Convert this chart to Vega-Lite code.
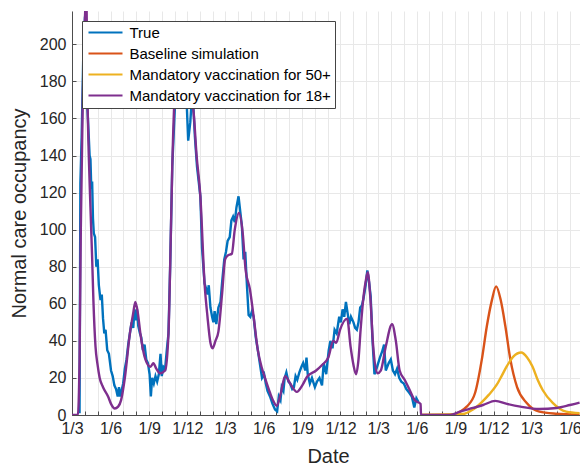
{
  "$schema": "https://vega.github.io/schema/vega-lite/v6.json",
  "width": 508,
  "height": 404,
  "autosize": {"type": "none"},
  "padding": {"left": 72, "top": 11, "right": 0, "bottom": 51},
  "background": "white",
  "config": {
    "font": "Liberation Sans",
    "view": {"stroke": null}
  },
  "datasets": {
    "rows": [
      {"date": "2020-03-19", "series": "True", "value": 1},
      {"date": "2020-03-21", "series": "True", "value": 125},
      {"date": "2020-03-24", "series": "True", "value": 150},
      {"date": "2020-03-28", "series": "True", "value": 195},
      {"date": "2020-04-01", "series": "True", "value": 215},
      {"date": "2020-04-04", "series": "True", "value": 205},
      {"date": "2020-04-06", "series": "True", "value": 168},
      {"date": "2020-04-08", "series": "True", "value": 160},
      {"date": "2020-04-10", "series": "True", "value": 150},
      {"date": "2020-04-12", "series": "True", "value": 140},
      {"date": "2020-04-14", "series": "True", "value": 138},
      {"date": "2020-04-16", "series": "True", "value": 122},
      {"date": "2020-04-18", "series": "True", "value": 126},
      {"date": "2020-04-20", "series": "True", "value": 106},
      {"date": "2020-04-22", "series": "True", "value": 98},
      {"date": "2020-04-25", "series": "True", "value": 96},
      {"date": "2020-04-28", "series": "True", "value": 80},
      {"date": "2020-05-01", "series": "True", "value": 84},
      {"date": "2020-05-04", "series": "True", "value": 70},
      {"date": "2020-05-08", "series": "True", "value": 62},
      {"date": "2020-05-11", "series": "True", "value": 65},
      {"date": "2020-05-14", "series": "True", "value": 52},
      {"date": "2020-05-17", "series": "True", "value": 44},
      {"date": "2020-05-20", "series": "True", "value": 46},
      {"date": "2020-05-24", "series": "True", "value": 35},
      {"date": "2020-05-28", "series": "True", "value": 33},
      {"date": "2020-06-02", "series": "True", "value": 24},
      {"date": "2020-06-06", "series": "True", "value": 21},
      {"date": "2020-06-10", "series": "True", "value": 16},
      {"date": "2020-06-14", "series": "True", "value": 14},
      {"date": "2020-06-18", "series": "True", "value": 10},
      {"date": "2020-06-21", "series": "True", "value": 15},
      {"date": "2020-06-24", "series": "True", "value": 10},
      {"date": "2020-07-01", "series": "True", "value": 17},
      {"date": "2020-07-05", "series": "True", "value": 25},
      {"date": "2020-07-09", "series": "True", "value": 30},
      {"date": "2020-07-13", "series": "True", "value": 38},
      {"date": "2020-07-17", "series": "True", "value": 44},
      {"date": "2020-07-21", "series": "True", "value": 50},
      {"date": "2020-07-25", "series": "True", "value": 47},
      {"date": "2020-07-28", "series": "True", "value": 57},
      {"date": "2020-07-31", "series": "True", "value": 51},
      {"date": "2020-08-03", "series": "True", "value": 57},
      {"date": "2020-08-06", "series": "True", "value": 48},
      {"date": "2020-08-10", "series": "True", "value": 44},
      {"date": "2020-08-13", "series": "True", "value": 42},
      {"date": "2020-08-17", "series": "True", "value": 35},
      {"date": "2020-08-21", "series": "True", "value": 38},
      {"date": "2020-08-25", "series": "True", "value": 30},
      {"date": "2020-08-29", "series": "True", "value": 28},
      {"date": "2020-09-02", "series": "True", "value": 22},
      {"date": "2020-09-05", "series": "True", "value": 10},
      {"date": "2020-09-08", "series": "True", "value": 20},
      {"date": "2020-09-12", "series": "True", "value": 17},
      {"date": "2020-09-16", "series": "True", "value": 21},
      {"date": "2020-09-20", "series": "True", "value": 18},
      {"date": "2020-09-24", "series": "True", "value": 22},
      {"date": "2020-09-28", "series": "True", "value": 33},
      {"date": "2020-10-01", "series": "True", "value": 21},
      {"date": "2020-10-05", "series": "True", "value": 26},
      {"date": "2020-10-09", "series": "True", "value": 25},
      {"date": "2020-10-13", "series": "True", "value": 35},
      {"date": "2020-10-17", "series": "True", "value": 44},
      {"date": "2020-10-21", "series": "True", "value": 80},
      {"date": "2020-10-26", "series": "True", "value": 134},
      {"date": "2020-11-01", "series": "True", "value": 165},
      {"date": "2020-11-05", "series": "True", "value": 180},
      {"date": "2020-11-10", "series": "True", "value": 190},
      {"date": "2020-11-15", "series": "True", "value": 185},
      {"date": "2020-11-20", "series": "True", "value": 178},
      {"date": "2020-11-25", "series": "True", "value": 186},
      {"date": "2020-11-30", "series": "True", "value": 165},
      {"date": "2020-12-03", "series": "True", "value": 148},
      {"date": "2020-12-08", "series": "True", "value": 158},
      {"date": "2020-12-12", "series": "True", "value": 172},
      {"date": "2020-12-15", "series": "True", "value": 168},
      {"date": "2020-12-19", "series": "True", "value": 150},
      {"date": "2020-12-24", "series": "True", "value": 134},
      {"date": "2021-01-01", "series": "True", "value": 118},
      {"date": "2021-01-05", "series": "True", "value": 90},
      {"date": "2021-01-11", "series": "True", "value": 71},
      {"date": "2021-01-15", "series": "True", "value": 68},
      {"date": "2021-01-18", "series": "True", "value": 65},
      {"date": "2021-01-21", "series": "True", "value": 70},
      {"date": "2021-01-25", "series": "True", "value": 58},
      {"date": "2021-01-29", "series": "True", "value": 53},
      {"date": "2021-02-01", "series": "True", "value": 50},
      {"date": "2021-02-04", "series": "True", "value": 56},
      {"date": "2021-02-08", "series": "True", "value": 49},
      {"date": "2021-02-13", "series": "True", "value": 58},
      {"date": "2021-02-18", "series": "True", "value": 61},
      {"date": "2021-02-22", "series": "True", "value": 72},
      {"date": "2021-02-27", "series": "True", "value": 84},
      {"date": "2021-03-03", "series": "True", "value": 88},
      {"date": "2021-03-07", "series": "True", "value": 94},
      {"date": "2021-03-12", "series": "True", "value": 96},
      {"date": "2021-03-16", "series": "True", "value": 105},
      {"date": "2021-03-20", "series": "True", "value": 107},
      {"date": "2021-03-24", "series": "True", "value": 104},
      {"date": "2021-03-28", "series": "True", "value": 112},
      {"date": "2021-04-02", "series": "True", "value": 118},
      {"date": "2021-04-06", "series": "True", "value": 110},
      {"date": "2021-04-10", "series": "True", "value": 102},
      {"date": "2021-04-14", "series": "True", "value": 84},
      {"date": "2021-04-18", "series": "True", "value": 88},
      {"date": "2021-04-22", "series": "True", "value": 70},
      {"date": "2021-04-26", "series": "True", "value": 54},
      {"date": "2021-04-30", "series": "True", "value": 53},
      {"date": "2021-05-04", "series": "True", "value": 56},
      {"date": "2021-05-08", "series": "True", "value": 53},
      {"date": "2021-05-13", "series": "True", "value": 42},
      {"date": "2021-05-18", "series": "True", "value": 35},
      {"date": "2021-05-24", "series": "True", "value": 26},
      {"date": "2021-05-28", "series": "True", "value": 20},
      {"date": "2021-06-02", "series": "True", "value": 22},
      {"date": "2021-06-06", "series": "True", "value": 17},
      {"date": "2021-06-10", "series": "True", "value": 13},
      {"date": "2021-06-16", "series": "True", "value": 10},
      {"date": "2021-06-22", "series": "True", "value": 6},
      {"date": "2021-06-28", "series": "True", "value": 3},
      {"date": "2021-07-03", "series": "True", "value": 2},
      {"date": "2021-07-07", "series": "True", "value": 10},
      {"date": "2021-07-11", "series": "True", "value": 8},
      {"date": "2021-07-14", "series": "True", "value": 15},
      {"date": "2021-07-18", "series": "True", "value": 13},
      {"date": "2021-07-21", "series": "True", "value": 20},
      {"date": "2021-07-25", "series": "True", "value": 23},
      {"date": "2021-07-30", "series": "True", "value": 18},
      {"date": "2021-08-03", "series": "True", "value": 17},
      {"date": "2021-08-08", "series": "True", "value": 14},
      {"date": "2021-08-12", "series": "True", "value": 15},
      {"date": "2021-08-16", "series": "True", "value": 21},
      {"date": "2021-08-20", "series": "True", "value": 19},
      {"date": "2021-08-25", "series": "True", "value": 23},
      {"date": "2021-08-30", "series": "True", "value": 26},
      {"date": "2021-09-03", "series": "True", "value": 28},
      {"date": "2021-09-08", "series": "True", "value": 24},
      {"date": "2021-09-11", "series": "True", "value": 31},
      {"date": "2021-09-14", "series": "True", "value": 22},
      {"date": "2021-09-19", "series": "True", "value": 17},
      {"date": "2021-09-24", "series": "True", "value": 20},
      {"date": "2021-10-01", "series": "True", "value": 15},
      {"date": "2021-10-06", "series": "True", "value": 18},
      {"date": "2021-10-12", "series": "True", "value": 20},
      {"date": "2021-10-18", "series": "True", "value": 16},
      {"date": "2021-10-22", "series": "True", "value": 28},
      {"date": "2021-10-28", "series": "True", "value": 22},
      {"date": "2021-11-03", "series": "True", "value": 35},
      {"date": "2021-11-07", "series": "True", "value": 40},
      {"date": "2021-11-12", "series": "True", "value": 36},
      {"date": "2021-11-17", "series": "True", "value": 46},
      {"date": "2021-11-22", "series": "True", "value": 44},
      {"date": "2021-11-28", "series": "True", "value": 53},
      {"date": "2021-12-02", "series": "True", "value": 50},
      {"date": "2021-12-06", "series": "True", "value": 57},
      {"date": "2021-12-10", "series": "True", "value": 53},
      {"date": "2021-12-14", "series": "True", "value": 61},
      {"date": "2021-12-18", "series": "True", "value": 55},
      {"date": "2021-12-22", "series": "True", "value": 49},
      {"date": "2021-12-26", "series": "True", "value": 53},
      {"date": "2022-01-01", "series": "True", "value": 50},
      {"date": "2022-01-05", "series": "True", "value": 47},
      {"date": "2022-01-09", "series": "True", "value": 46},
      {"date": "2022-01-13", "series": "True", "value": 50},
      {"date": "2022-01-17", "series": "True", "value": 58},
      {"date": "2022-01-21", "series": "True", "value": 59},
      {"date": "2022-01-25", "series": "True", "value": 63},
      {"date": "2022-01-30", "series": "True", "value": 70},
      {"date": "2022-02-03", "series": "True", "value": 78},
      {"date": "2022-02-07", "series": "True", "value": 72},
      {"date": "2022-02-11", "series": "True", "value": 64},
      {"date": "2022-02-15", "series": "True", "value": 42},
      {"date": "2022-02-20", "series": "True", "value": 22},
      {"date": "2022-02-25", "series": "True", "value": 25},
      {"date": "2022-03-01", "series": "True", "value": 28},
      {"date": "2022-03-05", "series": "True", "value": 31},
      {"date": "2022-03-10", "series": "True", "value": 34},
      {"date": "2022-03-15", "series": "True", "value": 38},
      {"date": "2022-03-19", "series": "True", "value": 24},
      {"date": "2022-03-26", "series": "True", "value": 28},
      {"date": "2022-03-31", "series": "True", "value": 30},
      {"date": "2022-04-05", "series": "True", "value": 24},
      {"date": "2022-04-10", "series": "True", "value": 22},
      {"date": "2022-04-15", "series": "True", "value": 25},
      {"date": "2022-04-20", "series": "True", "value": 20},
      {"date": "2022-04-25", "series": "True", "value": 18},
      {"date": "2022-05-01", "series": "True", "value": 17},
      {"date": "2022-05-07", "series": "True", "value": 14},
      {"date": "2022-05-14", "series": "True", "value": 12},
      {"date": "2022-05-20", "series": "True", "value": 10},
      {"date": "2022-05-26", "series": "True", "value": 4},
      {"date": "2022-05-31", "series": "True", "value": 9},
      {"date": "2022-06-05", "series": "True", "value": 7},

      {"date": "2022-06-11", "series": "Baseline simulation", "value": 0},
      {"date": "2022-08-19", "series": "Baseline simulation", "value": 0},
      {"date": "2022-09-12", "series": "Baseline simulation", "value": 1.8},
      {"date": "2022-09-28", "series": "Baseline simulation", "value": 4.5},
      {"date": "2022-10-18", "series": "Baseline simulation", "value": 12},
      {"date": "2022-11-03", "series": "Baseline simulation", "value": 30},
      {"date": "2022-11-15", "series": "Baseline simulation", "value": 48},
      {"date": "2022-11-27", "series": "Baseline simulation", "value": 62},
      {"date": "2022-12-07", "series": "Baseline simulation", "value": 69.4},
      {"date": "2022-12-18", "series": "Baseline simulation", "value": 62},
      {"date": "2022-12-29", "series": "Baseline simulation", "value": 48},
      {"date": "2023-01-10", "series": "Baseline simulation", "value": 30},
      {"date": "2023-01-26", "series": "Baseline simulation", "value": 15},
      {"date": "2023-02-18", "series": "Baseline simulation", "value": 6.5},
      {"date": "2023-03-20", "series": "Baseline simulation", "value": 1.8},
      {"date": "2023-04-28", "series": "Baseline simulation", "value": 0.7},
      {"date": "2023-06-24", "series": "Baseline simulation", "value": 0.2},

      {"date": "2022-06-11", "series": "Mandatory vaccination for 50+", "value": 0},
      {"date": "2022-09-19", "series": "Mandatory vaccination for 50+", "value": 0.5},
      {"date": "2022-10-13", "series": "Mandatory vaccination for 50+", "value": 3},
      {"date": "2022-11-03", "series": "Mandatory vaccination for 50+", "value": 7},
      {"date": "2022-11-20", "series": "Mandatory vaccination for 50+", "value": 11},
      {"date": "2022-12-09", "series": "Mandatory vaccination for 50+", "value": 16.5},
      {"date": "2022-12-20", "series": "Mandatory vaccination for 50+", "value": 21},
      {"date": "2023-01-02", "series": "Mandatory vaccination for 50+", "value": 26.5},
      {"date": "2023-01-17", "series": "Mandatory vaccination for 50+", "value": 31.5},
      {"date": "2023-02-05", "series": "Mandatory vaccination for 50+", "value": 33.7},
      {"date": "2023-02-19", "series": "Mandatory vaccination for 50+", "value": 31},
      {"date": "2023-03-04", "series": "Mandatory vaccination for 50+", "value": 26},
      {"date": "2023-03-16", "series": "Mandatory vaccination for 50+", "value": 19},
      {"date": "2023-03-28", "series": "Mandatory vaccination for 50+", "value": 13.5},
      {"date": "2023-04-21", "series": "Mandatory vaccination for 50+", "value": 6.5},
      {"date": "2023-05-23", "series": "Mandatory vaccination for 50+", "value": 1.8},
      {"date": "2023-06-24", "series": "Mandatory vaccination for 50+", "value": 1},

      {"date": "2020-03-01", "series": "Mandatory vaccination for 18+", "value": 0},
      {"date": "2020-03-15", "series": "Mandatory vaccination for 18+", "value": 0},
      {"date": "2020-03-19", "series": "Mandatory vaccination for 18+", "value": 30},
      {"date": "2020-03-22", "series": "Mandatory vaccination for 18+", "value": 100},
      {"date": "2020-03-27", "series": "Mandatory vaccination for 18+", "value": 175},
      {"date": "2020-04-01", "series": "Mandatory vaccination for 18+", "value": 215},
      {"date": "2020-04-04", "series": "Mandatory vaccination for 18+", "value": 228},
      {"date": "2020-04-07", "series": "Mandatory vaccination for 18+", "value": 170},
      {"date": "2020-04-10", "series": "Mandatory vaccination for 18+", "value": 140},
      {"date": "2020-04-14", "series": "Mandatory vaccination for 18+", "value": 112},
      {"date": "2020-04-18", "series": "Mandatory vaccination for 18+", "value": 85},
      {"date": "2020-04-21", "series": "Mandatory vaccination for 18+", "value": 62},
      {"date": "2020-04-26", "series": "Mandatory vaccination for 18+", "value": 37},
      {"date": "2020-05-01", "series": "Mandatory vaccination for 18+", "value": 27},
      {"date": "2020-05-06", "series": "Mandatory vaccination for 18+", "value": 20},
      {"date": "2020-05-14", "series": "Mandatory vaccination for 18+", "value": 15},
      {"date": "2020-05-26", "series": "Mandatory vaccination for 18+", "value": 10},
      {"date": "2020-06-02", "series": "Mandatory vaccination for 18+", "value": 6},
      {"date": "2020-06-11", "series": "Mandatory vaccination for 18+", "value": 3.5},
      {"date": "2020-06-19", "series": "Mandatory vaccination for 18+", "value": 4.5},
      {"date": "2020-06-26", "series": "Mandatory vaccination for 18+", "value": 8},
      {"date": "2020-07-05", "series": "Mandatory vaccination for 18+", "value": 20},
      {"date": "2020-07-17", "series": "Mandatory vaccination for 18+", "value": 44},
      {"date": "2020-07-25", "series": "Mandatory vaccination for 18+", "value": 55},
      {"date": "2020-07-30", "series": "Mandatory vaccination for 18+", "value": 61},
      {"date": "2020-08-05", "series": "Mandatory vaccination for 18+", "value": 55},
      {"date": "2020-08-11", "series": "Mandatory vaccination for 18+", "value": 44},
      {"date": "2020-08-23", "series": "Mandatory vaccination for 18+", "value": 30},
      {"date": "2020-09-04", "series": "Mandatory vaccination for 18+", "value": 26},
      {"date": "2020-09-11", "series": "Mandatory vaccination for 18+", "value": 28},
      {"date": "2020-09-18", "series": "Mandatory vaccination for 18+", "value": 25},
      {"date": "2020-09-27", "series": "Mandatory vaccination for 18+", "value": 22.5},
      {"date": "2020-10-09", "series": "Mandatory vaccination for 18+", "value": 24},
      {"date": "2020-10-17", "series": "Mandatory vaccination for 18+", "value": 44},
      {"date": "2020-10-21", "series": "Mandatory vaccination for 18+", "value": 80},
      {"date": "2020-10-26", "series": "Mandatory vaccination for 18+", "value": 134},
      {"date": "2020-11-03", "series": "Mandatory vaccination for 18+", "value": 179},
      {"date": "2020-11-10", "series": "Mandatory vaccination for 18+", "value": 185},
      {"date": "2020-11-19", "series": "Mandatory vaccination for 18+", "value": 180},
      {"date": "2020-11-29", "series": "Mandatory vaccination for 18+", "value": 178},
      {"date": "2020-12-08", "series": "Mandatory vaccination for 18+", "value": 170},
      {"date": "2020-12-15", "series": "Mandatory vaccination for 18+", "value": 165},
      {"date": "2020-12-23", "series": "Mandatory vaccination for 18+", "value": 140},
      {"date": "2021-01-01", "series": "Mandatory vaccination for 18+", "value": 118},
      {"date": "2021-01-11", "series": "Mandatory vaccination for 18+", "value": 71},
      {"date": "2021-01-18", "series": "Mandatory vaccination for 18+", "value": 53},
      {"date": "2021-01-25", "series": "Mandatory vaccination for 18+", "value": 39},
      {"date": "2021-01-30", "series": "Mandatory vaccination for 18+", "value": 36},
      {"date": "2021-02-06", "series": "Mandatory vaccination for 18+", "value": 40},
      {"date": "2021-02-13", "series": "Mandatory vaccination for 18+", "value": 45},
      {"date": "2021-02-22", "series": "Mandatory vaccination for 18+", "value": 66},
      {"date": "2021-03-01", "series": "Mandatory vaccination for 18+", "value": 84},
      {"date": "2021-03-07", "series": "Mandatory vaccination for 18+", "value": 86},
      {"date": "2021-03-17", "series": "Mandatory vaccination for 18+", "value": 87},
      {"date": "2021-03-24", "series": "Mandatory vaccination for 18+", "value": 100},
      {"date": "2021-04-03", "series": "Mandatory vaccination for 18+", "value": 109},
      {"date": "2021-04-12", "series": "Mandatory vaccination for 18+", "value": 98},
      {"date": "2021-04-19", "series": "Mandatory vaccination for 18+", "value": 78},
      {"date": "2021-04-29", "series": "Mandatory vaccination for 18+", "value": 68},
      {"date": "2021-05-08", "series": "Mandatory vaccination for 18+", "value": 53},
      {"date": "2021-05-18", "series": "Mandatory vaccination for 18+", "value": 35},
      {"date": "2021-05-28", "series": "Mandatory vaccination for 18+", "value": 25},
      {"date": "2021-06-04", "series": "Mandatory vaccination for 18+", "value": 20},
      {"date": "2021-06-16", "series": "Mandatory vaccination for 18+", "value": 12},
      {"date": "2021-06-23", "series": "Mandatory vaccination for 18+", "value": 8},
      {"date": "2021-07-02", "series": "Mandatory vaccination for 18+", "value": 5},
      {"date": "2021-07-12", "series": "Mandatory vaccination for 18+", "value": 12},
      {"date": "2021-07-22", "series": "Mandatory vaccination for 18+", "value": 21},
      {"date": "2021-08-03", "series": "Mandatory vaccination for 18+", "value": 17},
      {"date": "2021-08-19", "series": "Mandatory vaccination for 18+", "value": 12.5},
      {"date": "2021-09-01", "series": "Mandatory vaccination for 18+", "value": 16},
      {"date": "2021-09-12", "series": "Mandatory vaccination for 18+", "value": 20.5},
      {"date": "2021-10-04", "series": "Mandatory vaccination for 18+", "value": 24},
      {"date": "2021-10-18", "series": "Mandatory vaccination for 18+", "value": 27},
      {"date": "2021-11-02", "series": "Mandatory vaccination for 18+", "value": 31},
      {"date": "2021-11-14", "series": "Mandatory vaccination for 18+", "value": 40},
      {"date": "2021-11-21", "series": "Mandatory vaccination for 18+", "value": 39},
      {"date": "2021-11-30", "series": "Mandatory vaccination for 18+", "value": 46},
      {"date": "2021-12-17", "series": "Mandatory vaccination for 18+", "value": 52},
      {"date": "2021-12-25", "series": "Mandatory vaccination for 18+", "value": 37},
      {"date": "2022-01-01", "series": "Mandatory vaccination for 18+", "value": 27},
      {"date": "2022-01-07", "series": "Mandatory vaccination for 18+", "value": 22},
      {"date": "2022-01-13", "series": "Mandatory vaccination for 18+", "value": 30},
      {"date": "2022-01-18", "series": "Mandatory vaccination for 18+", "value": 46},
      {"date": "2022-01-25", "series": "Mandatory vaccination for 18+", "value": 64},
      {"date": "2022-01-30", "series": "Mandatory vaccination for 18+", "value": 72},
      {"date": "2022-02-04", "series": "Mandatory vaccination for 18+", "value": 77},
      {"date": "2022-02-10", "series": "Mandatory vaccination for 18+", "value": 64},
      {"date": "2022-02-17", "series": "Mandatory vaccination for 18+", "value": 37},
      {"date": "2022-02-27", "series": "Mandatory vaccination for 18+", "value": 22.5},
      {"date": "2022-03-07", "series": "Mandatory vaccination for 18+", "value": 24},
      {"date": "2022-03-19", "series": "Mandatory vaccination for 18+", "value": 37},
      {"date": "2022-04-03", "series": "Mandatory vaccination for 18+", "value": 49},
      {"date": "2022-04-12", "series": "Mandatory vaccination for 18+", "value": 40},
      {"date": "2022-04-21", "series": "Mandatory vaccination for 18+", "value": 24},
      {"date": "2022-05-03", "series": "Mandatory vaccination for 18+", "value": 19},
      {"date": "2022-05-15", "series": "Mandatory vaccination for 18+", "value": 13.5},
      {"date": "2022-05-27", "series": "Mandatory vaccination for 18+", "value": 8},
      {"date": "2022-06-10", "series": "Mandatory vaccination for 18+", "value": 6},
      {"date": "2022-06-11", "series": "Mandatory vaccination for 18+", "value": 0},
      {"date": "2022-08-19", "series": "Mandatory vaccination for 18+", "value": 0},
      {"date": "2022-09-12", "series": "Mandatory vaccination for 18+", "value": 1.8},
      {"date": "2022-10-13", "series": "Mandatory vaccination for 18+", "value": 3.8},
      {"date": "2022-11-06", "series": "Mandatory vaccination for 18+", "value": 5.4},
      {"date": "2022-12-05", "series": "Mandatory vaccination for 18+", "value": 7.6},
      {"date": "2023-01-02", "series": "Mandatory vaccination for 18+", "value": 6},
      {"date": "2023-02-03", "series": "Mandatory vaccination for 18+", "value": 4.5},
      {"date": "2023-03-20", "series": "Mandatory vaccination for 18+", "value": 3.2},
      {"date": "2023-04-30", "series": "Mandatory vaccination for 18+", "value": 3.8},
      {"date": "2023-06-01", "series": "Mandatory vaccination for 18+", "value": 5.4},
      {"date": "2023-06-24", "series": "Mandatory vaccination for 18+", "value": 6.7}
    ]
  },
  "data": {"name": "rows"},
  "encoding": {
    "x": {
      "field": "date",
      "type": "temporal",
      "scale": {
        "type": "utc",
        "domain": [
          {"year": 2020, "month": 3, "date": 1, "utc": true},
          {"year": 2023, "month": 6, "date": 25, "utc": true}
        ]
      },
      "axis": {
        "title": "Date",
        "tickCount": {"interval": "month", "step": 1},
        "labelExpr": "utcmonth(datum.value) % 3 == 2 ? utcdate(datum.value) + '/' + (utcmonth(datum.value) + 1) : ''",
        "labelOverlap": false,
        "labelFlush": false,
        "labelBound": false,
        "grid": true,
        "gridColor": "#e8e8e8",
        "gridWidth": 1,
        "domainColor": "#4d4d4d",
        "tickColor": "#4d4d4d",
        "tickSize": -4,
        "labelPadding": 9,
        "labelFontSize": 16,
        "labelColor": "#262626",
        "titleFontSize": 20,
        "titleFontWeight": "normal",
        "titleColor": "#262626",
        "titleX": 256,
        "titleY": 31,
        "titleBaseline": "top"
      }
    },
    "y": {
      "field": "value",
      "type": "quantitative",
      "scale": {"domain": [0, 218], "nice": false, "zero": true},
      "axis": {
        "title": "Normal care occupancy",
        "values": [0, 20, 40, 60, 80, 100, 120, 140, 160, 180, 200],
        "grid": true,
        "gridColor": "#e8e8e8",
        "gridWidth": 1,
        "domainColor": "#4d4d4d",
        "tickColor": "#4d4d4d",
        "tickSize": -4,
        "labelPadding": 10,
        "labelFontSize": 16,
        "labelColor": "#262626",
        "titleFontSize": 20,
        "titleFontWeight": "normal",
        "titleColor": "#262626",
        "titlePadding": 10
      }
    },
    "color": {
      "field": "series",
      "type": "nominal",
      "scale": {
        "domain": ["True", "Baseline simulation", "Mandatory vaccination for 50+", "Mandatory vaccination for 18+"],
        "range": ["#0072BD", "#D95319", "#EDB120", "#7E2F8E"]
      },
      "legend": {
        "title": null,
        "orient": "none",
        "legendX": 10,
        "legendY": 10,
        "padding": 4,
        "rowPadding": 5,
        "symbolType": "M-1,0H5.8",
        "symbolSize": 100,
        "symbolStrokeWidth": 2.2,
        "labelOffset": 28.5,
        "labelFontSize": 15,
        "labelColor": "#000000",
        "labelLimit": 300,
        "fillColor": "white",
        "strokeColor": "#444444"
      }
    }
  },
  "layer": [
    {"transform": [{"filter": "datum.series === 'True'"}], "mark": {"type": "line", "strokeWidth": 2.4, "clip": true}},
    {"transform": [{"filter": "datum.series === 'Baseline simulation'"}], "mark": {"type": "line", "strokeWidth": 2.4, "clip": true, "interpolate": "monotone"}},
    {"transform": [{"filter": "datum.series === 'Mandatory vaccination for 50+'"}], "mark": {"type": "line", "strokeWidth": 2.4, "clip": true, "interpolate": "monotone"}},
    {"transform": [{"filter": "datum.series === 'Mandatory vaccination for 18+'"}], "mark": {"type": "line", "strokeWidth": 2.4, "clip": true, "interpolate": "monotone"}}
  ]
}
